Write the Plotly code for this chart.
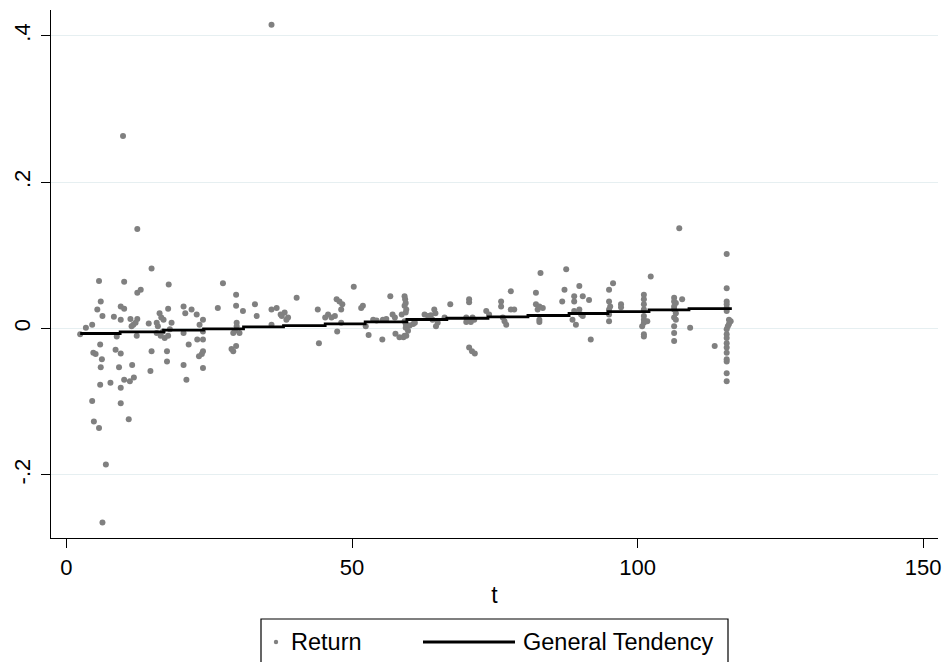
import plotly.graph_objects as go

# ---- data ----
t_values = [
    2.4, 3.4, 4.5, 5.7, 6.0, 5.4, 6.3, 5.9, 4.7, 5.1, 6.2, 6.0, 5.9, 7.7, 4.5, 4.8, 5.7, 6.9, 6.3,
    8.3, 9.5, 10.1, 10.1, 9.5, 8.8, 8.6, 9.5, 9.2, 10.1, 9.5, 9.5, 10.9, 11.5, 11.1, 11.8, 9.9,
    11.2, 11.7, 12.4, 12.1, 11.4, 12.3, 12.4, 13.0, 12.4,
    14.4, 14.9, 14.9, 14.7, 15.8, 16.0, 16.3, 16.6, 16.9, 15.8, 16.5, 17.2, 17.8, 18.1, 18.4,
    17.8, 17.9, 17.6, 17.6, 17.0,
    20.5, 20.8, 21.9, 22.8, 20.5, 21.4, 20.5, 21.0, 22.9, 23.9, 23.9, 23.9, 23.9, 23.7, 23.2, 23.9, 23.3,
    26.5, 27.4, 29.7, 29.7, 29.5, 29.8, 29.2, 29.7, 29.8, 30.9, 30.3, 29.2, 28.9,
    33.0, 33.3, 35.9, 36.8, 35.9, 37.7, 38.2, 38.8, 37.5, 38.5, 40.3, 35.9,
    44.0, 44.2, 45.3, 45.8, 46.4, 47.0, 47.3, 47.8, 48.3, 48.1, 47.4, 48.1, 50.3, 51.6, 51.9, 52.9, 52.4,
    53.7, 54.3, 55.4, 56.0, 55.3, 56.7, 57.1, 57.5, 57.6, 58.3, 58.7,
    59.2, 59.3, 59.4, 59.2, 59.5, 59.4, 59.2, 59.4, 60.1, 60.7, 61.0, 59.4, 59.8, 59.2, 59.0, 59.5,
    62.7, 63.3, 63.8, 64.1, 64.4, 64.6, 64.7, 65.0, 67.2, 66.2,
    70.5, 70.5, 70.0, 70.5, 71.1, 71.4, 70.0, 70.8, 70.5, 71.0, 71.5,
    73.5, 74.0, 76.1, 76.1, 76.4, 76.7, 77.0, 77.8, 77.8, 78.4,
    82.2, 83.0, 82.2, 82.8, 83.4, 82.5, 82.8, 82.8,
    86.8, 87.2, 87.5, 88.9, 88.9, 88.6, 89.2, 89.8, 90.4, 88.9, 89.8, 90.1, 90.4, 91.5, 91.8,
    95.0, 95.7, 95.0, 95.0, 95.0, 95.0, 95.2, 97.1, 97.1,
    102.3, 101.1, 101.1, 101.1, 101.1, 101.1, 101.1, 101.7, 101.1, 100.8, 101.1, 101.1,
    106.4, 106.4, 106.7, 106.4, 106.4, 106.7, 106.4, 106.7, 106.4, 106.4, 106.4, 107.8, 107.3,
    109.2, 113.5,
    115.6, 115.6, 115.6, 115.6, 115.6, 115.6, 116.0, 116.3, 115.8, 115.6, 115.6, 115.6, 115.6,
    115.6, 115.6, 115.6, 115.6, 115.6, 115.6, 116.0,
]
return_values = [
    -0.008, 0.001, 0.005, 0.065, 0.037, 0.026, 0.017, -0.022, -0.033, -0.035, -0.042, -0.053, -0.077, -0.074, -0.099, -0.127, -0.136, -0.186, -0.265,
    0.016, 0.030, 0.027, 0.064, 0.012, -0.011, -0.029, -0.034, -0.053, -0.070, -0.081, -0.102, -0.124, -0.050, -0.072, -0.067, 0.263,
    0.013, 0.005, 0.013, 0.008, 0.003, -0.010, 0.049, 0.053, 0.136,
    0.007, 0.082, -0.031, -0.058, 0.008, 0.003, 0.021, 0.015, -0.004, -0.006, -0.010, -0.013, -0.010, -0.001, 0.008,
    0.027, 0.060, -0.031, -0.045, 0.012,
    0.030, 0.021, 0.026, 0.019, -0.006, -0.022, -0.050, -0.070, -0.015, 0.012, -0.004, -0.015, -0.031, -0.035, -0.038, -0.054, 0.005,
    0.028, 0.062, 0.046, 0.031, -0.003, 0.003, -0.031, -0.024, 0.008, 0.024, -0.006, -0.006, -0.028,
    0.033, 0.017, 0.026, 0.028, 0.005, 0.017, 0.022, 0.015, 0.019, 0.012, 0.042, 0.415,
    0.026, -0.020, 0.015, 0.019, 0.015, 0.017, 0.040, 0.037, 0.033, 0.026, -0.004, 0.008, 0.057, 0.028, 0.031, -0.009, 0.003,
    0.012, 0.011, 0.012, 0.013, -0.015, 0.044, 0.019, 0.015, -0.007, -0.012, 0.019,
    0.044, 0.040, 0.035, 0.031, 0.026, 0.022, 0.010, 0.006, 0.004, 0.006, 0.008, 0.001, -0.003, -0.010, -0.012, -0.010,
    0.019, 0.017, 0.018, 0.012, 0.026, 0.021, 0.003, 0.008, 0.033, 0.015,
    0.036, 0.040, 0.015, 0.012, 0.015, 0.012, 0.009, 0.009, -0.026, -0.031, -0.034,
    0.024, 0.019, 0.037, 0.030, 0.015, 0.010, 0.005, 0.051, 0.026, 0.026,
    0.049, 0.076, 0.033, 0.030, 0.028, 0.026, 0.012, 0.009,
    0.037, 0.053, 0.081, 0.044, 0.037, 0.012, 0.005, 0.058, 0.044, 0.024, 0.026, 0.019, 0.017, 0.039, -0.015,
    0.053, 0.062, 0.037, 0.026, 0.019, 0.010, 0.030, 0.033, 0.029,
    0.071, 0.046, 0.040, 0.033, 0.026, 0.017, 0.012, 0.010, 0.008, 0.003, -0.008, -0.011,
    0.042, 0.037, 0.035, 0.030, 0.026, 0.021, 0.015, 0.012, 0.003, -0.006, -0.017, 0.040, 0.137,
    0.001, -0.024,
    0.102, 0.055, 0.037, 0.033, 0.028, 0.024, 0.012, 0.010, 0.003, -0.001, -0.008, -0.013, -0.020,
    -0.026, -0.033, -0.042, -0.045, -0.061, -0.072, 0.006,
]

# General tendency (step line): step edges and level of each step
trend_t = [2.4, 9.4, 17.0, 24.0, 31.0, 38.0, 45.3, 52.3, 59.6, 66.6, 73.8, 80.8, 88.0, 94.8, 102.0, 109.0, 116.5]
trend_y = [-0.0068, -0.0045, -0.0023, -0.0004, 0.0023, 0.0040, 0.0064, 0.0090, 0.0123, 0.0140,
           0.0160, 0.0178, 0.0205, 0.0232, 0.0255, 0.0273, 0.0273]

x_ticks = [0, 50, 100, 150]
y_ticks = [-0.2, 0, 0.2, 0.4]
y_tick_text = ["-.2", "0", ".2", ".4"]

series_names = ["Return", "General Tendency"]

FONT = "Liberation Sans, Arial, sans-serif"
GRAY = "rgb(128,128,128)"

fig = go.Figure()
fig.add_trace(go.Scatter(
    x=t_values, y=return_values, mode="markers", name=series_names[0],
    marker=dict(color=GRAY, size=6, symbol="circle", line=dict(width=0)),
    showlegend=False,
))
fig.add_trace(go.Scatter(
    x=trend_t, y=trend_y, mode="lines", name=series_names[1],
    line=dict(color="black", width=2.8, shape="hv"),
    showlegend=False,
))

# plot area in pixels: x 51..938, y 10..538
L, R, T, B = 51, 6, 10, 124
W, H = 944, 662
pw, ph = W - L - R, H - T - B

def px(xp):
    return (xp - L) / pw

def py(yp):
    return (H - B - yp) / ph

shapes = [
    # legend box (bottom edge falls outside the picture)
    dict(type="rect", xref="paper", yref="paper", x0=px(261), x1=px(728), y0=py(700), y1=py(619),
         line=dict(color="black", width=1.2), fillcolor="rgba(0,0,0,0)"),
    # legend marker
    dict(type="circle", xref="paper", yref="paper", x0=px(273.8), x1=px(278.2), y0=py(644.2), y1=py(639.8),
         line=dict(width=0), fillcolor=GRAY),
    # legend line sample
    dict(type="line", xref="paper", yref="paper", x0=px(423), x1=px(515), y0=py(642), y1=py(642),
         line=dict(color="black", width=2.8)),
]
annotations = [
    dict(text=series_names[0], xref="paper", yref="paper", x=px(289), y=py(642), xanchor="left", yanchor="middle",
         showarrow=False, font=dict(family=FONT, size=23.5, color="black")),
    dict(text=series_names[1], xref="paper", yref="paper", x=px(521), y=py(642), xanchor="left", yanchor="middle",
         showarrow=False, font=dict(family=FONT, size=23.5, color="black")),
]

fig.update_layout(
    width=W, height=H,
    margin=dict(l=L, r=R, t=T, b=B, pad=0),
    paper_bgcolor="white", plot_bgcolor="white",
    font=dict(family=FONT, size=22, color="black"),
    shapes=shapes, annotations=annotations,
    showlegend=False,
    xaxis=dict(
        range=[-2.71, 152.6], tickvals=x_ticks, ticks="outside", ticklen=9, tickwidth=1.3,
        tickcolor="black", showline=True, linecolor="black", linewidth=1.4, showgrid=False,
        zeroline=False, tickfont=dict(size=22), ticklabelstandoff=0,
        title=dict(text="t", font=dict(size=23), standoff=8), automargin=False,
    ),
    yaxis=dict(
        range=[-0.2863, 0.4353], tickvals=y_ticks, ticktext=y_tick_text, tickangle=-90,
        ticks="outside", ticklen=9, tickwidth=1.3, tickcolor="black", showline=True,
        linecolor="black", linewidth=1.4, showgrid=True, gridcolor="#e6eff1", gridwidth=1,
        zeroline=False, tickfont=dict(size=22), ticklabelstandoff=2, automargin=False,
    ),
)

fig.write_html(
    "out.html",
    config={"displayModeBar": False},
    post_script="document.body.style.margin='0';document.body.style.padding='0';document.body.style.overflow='hidden';",
)
